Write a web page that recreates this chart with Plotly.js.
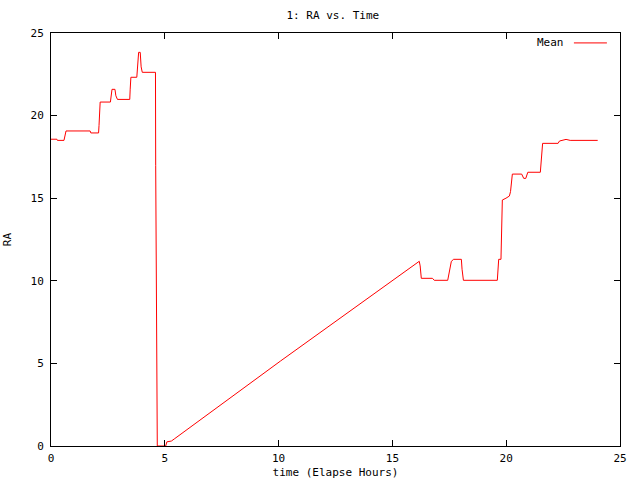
<!DOCTYPE html>
<html>
<head>
<meta charset="utf-8">
<script src="https://cdn.plot.ly/plotly-3.0.1.min.js"></script>
<style>html,body{margin:0;padding:0;background:#fff;}#chart{width:640px;height:480px;}</style>
</head>
<body>
<div id="chart"></div>
<script>
const timeHours = [0, 0.26, 0.28, 0.57, 0.66, 1.72, 1.75, 2.09, 2.11, 2.16, 2.61, 2.65, 2.68, 2.81, 2.85, 2.92,
  3.46, 3.48, 3.51, 3.77, 3.80, 3.85, 3.92, 3.96, 4.01, 4.59, 4.60, 4.63, 4.67, 5.04, 5.09, 5.29, 5.44,
  10.09, 15.34, 16.18, 16.22, 16.27, 16.76, 16.84, 17.43, 17.51, 17.59, 17.69, 18.03, 18.06, 18.12,
  19.61, 19.67, 19.77, 19.79, 19.83, 19.99, 20.14, 20.19, 20.27, 20.68, 20.77, 20.86, 20.95,
  21.50, 21.54, 21.60, 22.28, 22.34, 22.63, 22.81, 24.02];
const raMean = [18.57, 18.57, 18.5, 18.5, 19.07, 19.07, 18.95, 18.95, 19.4, 20.82, 20.82, 21.2, 21.59, 21.59, 21.2, 20.98,
  20.98, 21.6, 22.32, 22.32, 23.0, 23.83, 23.83, 22.95, 22.62, 22.62, 16.97, 5.63, 0, 0, 0.25, 0.3, 0.45,
  5.15, 10.35, 11.18, 10.9, 10.15, 10.15, 10.03, 10.03, 10.6, 11.18, 11.3, 11.3, 10.7, 10.03,
  10.03, 11.3, 11.3, 12.8, 14.89, 15.0, 15.13, 15.4, 16.46, 16.46, 16.2, 16.2, 16.57,
  16.57, 17.6, 18.32, 18.32, 18.46, 18.56, 18.5, 18.5];
const seriesName = "Mean";
const xTicks = [0, 5, 10, 15, 20, 25];
const yTicks = [0, 5, 10, 15, 20, 25];

const fontFam = "DejaVu Sans Mono, monospace";
const axisCommon = {
  showline: true, mirror: 'ticks', linecolor: '#000', linewidth: 1,
  ticks: 'inside', ticklen: 6, tickcolor: '#000', tickwidth: 1,
  showgrid: false, zeroline: false,
  tickfont: {family: fontFam, size: 11, color: '#000'}
};

const trace = {
  x: timeHours, y: raMean, type: 'scatter', mode: 'lines', name: seriesName,
  line: {color: '#ff0000', width: 1}, showlegend: false
};

const layout = {
  width: 640, height: 480,
  margin: {l: 51, r: 20, t: 33, b: 34},
  paper_bgcolor: '#fff', plot_bgcolor: '#fff',
  font: {family: fontFam, size: 11, color: '#000'},
  title: {text: '1: RA vs. Time', x: 0.52, xanchor: 'center', y: 0.968, yanchor: 'middle',
          font: {family: fontFam, size: 11, color: '#000'}},
  xaxis: Object.assign({}, axisCommon, {
    range: [0, 25], tickvals: xTicks, ticktext: xTicks.map(String), ticklabelstandoff: 2,
    title: {text: 'time (Elapse Hours)', standoff: 4, font: {family: fontFam, size: 11, color: '#000'}}
  }),
  yaxis: Object.assign({}, axisCommon, {
    range: [0, 25], tickvals: yTicks, ticktext: yTicks.map(String), ticklabelstandoff: 4,
    title: {text: 'RA', standoff: 16, font: {family: fontFam, size: 11, color: '#000'}}
  }),
  annotations: [{
    xref: 'paper', yref: 'paper', x: 0.905, y: 0.976, xanchor: 'right', yanchor: 'middle',
    text: seriesName, showarrow: false, font: {family: fontFam, size: 11, color: '#000'}
  }],
  shapes: [{
    type: 'line', xref: 'paper', yref: 'paper', x0: 0.919, x1: 0.977, y0: 0.976, y1: 0.976,
    line: {color: '#ff0000', width: 1}
  }]
};

Plotly.newPlot('chart', [trace], layout, {displayModeBar: false, staticPlot: true});
</script>
</body>
</html>
